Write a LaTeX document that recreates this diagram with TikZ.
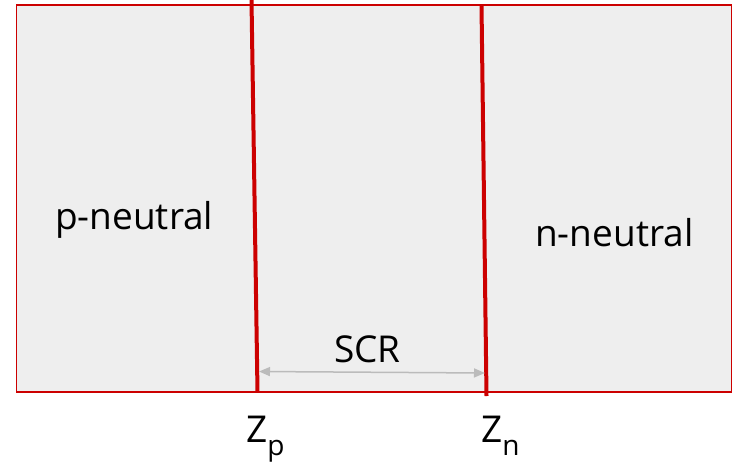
\documentclass[tikz,border=0pt]{standalone}
\usepackage{fontspec}
\setmainfont{Open Sans}
\usetikzlibrary{arrows.meta}
\definecolor{bordred}{HTML}{CC0000}
\definecolor{panel}{HTML}{EEEEEE}
\definecolor{dimgray}{HTML}{BBBBBB}
\tikzset{
  lbl/.style={inner sep=0pt, anchor=base west, font=\fontsize{37}{42}\selectfont, text=black},
  junction/.style={draw=bordred, line width=4pt},
  dimline/.style={draw=dimgray, line width=1.5pt, {Triangle[length=11pt,width=9pt]}-{Triangle[length=11pt,width=9pt]}},
}
\newcommand{\zsub}[1]{Z\raisebox{-13pt}{\fontsize{28}{30}\selectfont #1}}
\begin{document}
\begin{tikzpicture}[x=1pt,y=-1pt]
  \useasboundingbox (0,0) rectangle (736,461);
  % device body
  \draw[fill=panel, draw=bordred, line width=1.5pt] (16.5,5) rectangle (731.5,392);
  % depletion edges
  \coordinate (ptop) at (251.5,0);
  \coordinate (pbot) at (257.5,392);
  \coordinate (ntop) at (481.5,5);
  \coordinate (nbot) at (486.5,396);
  \draw[junction] (ptop) -- (pbot);
  \draw[junction] (ntop) -- (nbot);
  % region labels
  \node[lbl] (pn) at (55,229) {p-neutral};
  \node[lbl] (nn) at (535,246) {n-neutral};
  \node[lbl] (scr) at (334,362) {SCR};
  % width of the space-charge region
  \coordinate (aL) at (259,371.5);
  \coordinate (aR) at (485,373);
  \draw[dimline] (aL) -- (aR);
  % edge positions
  \node[lbl] (zp) at (246,442) {\zsub{p}};
  \node[lbl] (zn) at (481,442) {\zsub{n}};
\end{tikzpicture}
\end{document}
